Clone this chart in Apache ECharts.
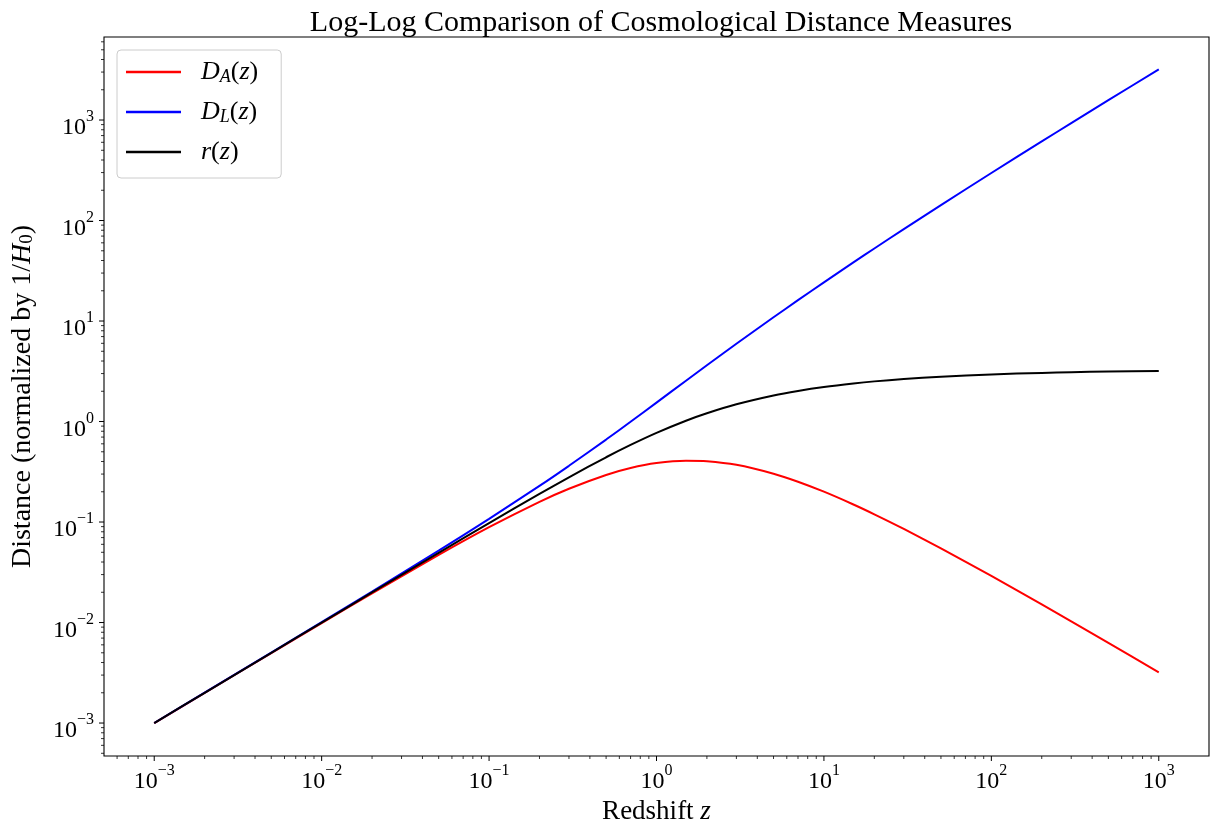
<!DOCTYPE html>
<html>
<head>
<meta charset="utf-8">
<script src="https://cdn.jsdelivr.net/npm/echarts@6.0.0/dist/echarts.min.js"></script>
<style>
  html, body { margin: 0; padding: 0; background: #ffffff; }
  #chart { width: 1211px; height: 823px; }
</style>
</head>
<body>
<div id="chart"></div>
<script>
// Redshift samples and the three distance measures (units of c/H0)
const redshift = [0.001, 0.002, 0.005, 0.01, 0.02, 0.05, 0.1, 0.2, 0.3, 0.5, 0.7, 1, 1.5, 2, 3, 5, 7, 10, 15, 20, 30, 50, 100, 200, 300, 500, 1000];
const angularDiameterDistance = [0.0009988, 0.001995, 0.004970, 0.009879, 0.01952, 0.04708, 0.08883, 0.1589, 0.2145, 0.2940, 0.3442, 0.3857, 0.4076, 0.4032, 0.3710, 0.3026, 0.2519, 0.2004, 0.1495, 0.1194, 0.08547, 0.05478, 0.02913, 0.01516, 0.01028, 0.006272, 0.003187];
const luminosityDistance = [0.001001, 0.002003, 0.005019, 0.01008, 0.02031, 0.05190, 0.1075, 0.2288, 0.3626, 0.6615, 0.9946, 1.543, 2.547, 3.628, 5.936, 10.89, 16.12, 24.25, 38.28, 52.68, 82.13, 142.5, 297.1, 612.6, 931.5, 1574, 3193];
const comovingDistance = [0.0009998, 0.001999, 0.004994, 0.009978, 0.01991, 0.04943, 0.09771, 0.1907, 0.2789, 0.4410, 0.5851, 0.7714, 1.019, 1.209, 1.484, 1.816, 2.015, 2.205, 2.392, 2.509, 2.650, 2.794, 2.942, 3.048, 3.095, 3.142, 3.190];

// Decade exponents that carry a tick label
const xTickExponents = [-3, -2, -1, 0, 1, 2, 3];
const yTickExponents = [-3, -2, -1, 0, 1, 2, 3];
// Mantissas of the minor ticks inside each decade
const minorMantissas = [2, 3, 4, 5, 6, 7, 8, 9];

const xRange = [Math.pow(10, -3.3), Math.pow(10, 3.3)];
const yRange = [Math.pow(10, -3.328), Math.pow(10, 3.826)];

const FONT = 'Liberation Serif';

function pairs(xs, ys) { return xs.map((x, i) => [x, ys[i]]); }

function decadeTicks(exponents, range) {
  const ticks = [];
  const lo = exponents[0] - 1, hi = exponents[exponents.length - 1];
  for (let e = lo; e <= hi; e++) {
    const base = Math.pow(10, e);
    if (base >= range[0] && base <= range[1]) ticks.push({ v: base, major: 1 });
    minorMantissas.forEach(m => {
      const v = m * base;
      if (v >= range[0] && v <= range[1]) ticks.push({ v: v, major: 0 });
    });
  }
  return ticks;
}

function powerLabel(v) {
  const e = Math.log10(v);
  const n = Math.round(e);
  if (Math.abs(e - n) > 1e-6) return '';
  const exp = n < 0 ? '\u2212' + (-n) : String(n);
  return '{b|10}{s|' + exp + '}';
}

const powerRich = {
  b: { fontFamily: FONT, fontSize: 24, lineHeight: 22, padding: [7, 0, 0, 0], verticalAlign: 'top', color: '#000' },
  s: { fontFamily: FONT, fontSize: 16, lineHeight: 16, verticalAlign: 'top', color: '#000' }
};

function tickSeries(ticks, dir) {
  return {
    type: 'custom',
    silent: true,
    clip: false,
    z: 6,
    data: ticks.map(t => dir === 'x' ? [t.v, yRange[0], t.major] : [xRange[0], t.v, t.major]),
    renderItem: function (params, api) {
      const p = api.coord([api.value(0), api.value(1)]);
      const len = api.value(2) ? 5 : 3;
      const shape = dir === 'x'
        ? { x1: p[0], y1: p[1], x2: p[0], y2: p[1] + len }
        : { x1: p[0], y1: p[1], x2: p[0] - len, y2: p[1] };
      return { type: 'line', shape: shape, style: { stroke: '#000', lineWidth: api.value(2) ? 1 : 0.8 } };
    }
  };
}

const legendText = {
  'D_A(z)': '{i|D}{sub|A}{n|(}{i|z}{n|)}',
  'D_L(z)': '{i|D}{sub|L}{n|(}{i|z}{n|)}',
  'r(z)': '{i|r}{n|(}{i|z}{n|)}'
};

const chart = echarts.init(document.getElementById('chart'), null, { renderer: 'canvas' });

chart.setOption({
  animation: false,
  backgroundColor: '#ffffff',
  title: {
    text: 'Log-Log Comparison of Cosmological Distance Measures',
    left: 656,
    textAlign: 'center',
    top: 3,
    textStyle: { fontFamily: FONT, fontSize: 30, fontWeight: 'normal', color: '#000' }
  },
  grid: {
    left: 104, right: 2, top: 37, bottom: 67,
    outerBoundsMode: 'none',
    containLabel: false,
    show: true, borderColor: '#000', borderWidth: 1.1, backgroundColor: 'transparent'
  },
  legend: {
    data: ['D_A(z)', 'D_L(z)', 'r(z)'],
    orient: 'vertical',
    left: 117, top: 50,
    padding: [9, 23, 13, 9],
    itemGap: 13,
    itemWidth: 55,
    itemHeight: 2.5,
    icon: 'rect',
    backgroundColor: 'rgba(255,255,255,0.8)',
    borderColor: '#cccccc',
    borderWidth: 1,
    borderRadius: 4,
    formatter: name => legendText[name],
    textStyle: {
      fontFamily: FONT, color: '#000', padding: [0, 0, 0, 15],
      rich: {
        i: { fontFamily: FONT, fontStyle: 'italic', fontSize: 26, lineHeight: 28, color: '#000' },
        n: { fontFamily: FONT, fontSize: 26, lineHeight: 28, color: '#000' },
        sub: { fontFamily: FONT, fontStyle: 'italic', fontSize: 18, lineHeight: 18, verticalAlign: 'bottom', color: '#000' }
      }
    }
  },
  xAxis: {
    type: 'log',
    logBase: 10,
    min: xRange[0],
    max: xRange[1],
    name: '{n|Redshift }{i|z}',
    nameLocation: 'middle',
    nameGap: 40,
    nameTextStyle: {
      rich: {
        n: { fontFamily: FONT, fontSize: 27, color: '#000' },
        i: { fontFamily: FONT, fontStyle: 'italic', fontSize: 27, color: '#000' }
      }
    },
    axisLine: { show: false },
    axisTick: { show: false },
    splitLine: { show: false },
    minorTick: { show: false },
    axisLabel: { show: true, margin: 7, formatter: powerLabel, showMinLabel: false, showMaxLabel: false, rich: powerRich }
  },
  yAxis: {
    type: 'log',
    logBase: 10,
    min: yRange[0],
    max: yRange[1],
    name: '{n|Distance (normalized by 1/}{i|H}{sub|0}{n|)}',
    nameLocation: 'middle',
    nameRotate: 90,
    nameGap: 67,
    nameTextStyle: {
      rich: {
        n: { fontFamily: FONT, fontSize: 28, lineHeight: 28, color: '#000' },
        i: { fontFamily: FONT, fontStyle: 'italic', fontSize: 28, lineHeight: 28, color: '#000' },
        sub: { fontFamily: FONT, fontSize: 19, lineHeight: 18, verticalAlign: 'bottom', color: '#000' }
      }
    },
    axisLine: { show: false },
    axisTick: { show: false },
    splitLine: { show: false },
    minorTick: { show: false },
    axisLabel: { show: true, margin: 10, formatter: powerLabel, showMinLabel: false, showMaxLabel: false, rich: powerRich }
  },
  series: [
    {
      name: 'D_A(z)', type: 'line', data: pairs(redshift, angularDiameterDistance),
      showSymbol: false, symbol: 'none', smooth: 0.25,
      lineStyle: { color: '#ff0000', width: 2 }, itemStyle: { color: '#ff0000' }
    },
    {
      name: 'D_L(z)', type: 'line', data: pairs(redshift, luminosityDistance),
      showSymbol: false, symbol: 'none', smooth: 0.25,
      lineStyle: { color: '#0000ff', width: 2 }, itemStyle: { color: '#0000ff' }
    },
    {
      name: 'r(z)', type: 'line', data: pairs(redshift, comovingDistance),
      showSymbol: false, symbol: 'none', smooth: 0.25,
      lineStyle: { color: '#000000', width: 2 }, itemStyle: { color: '#000000' }
    },
    tickSeries(decadeTicks(xTickExponents, xRange), 'x'),
    tickSeries(decadeTicks(yTickExponents, yRange), 'y')
  ]
});
</script>
</body>
</html>
